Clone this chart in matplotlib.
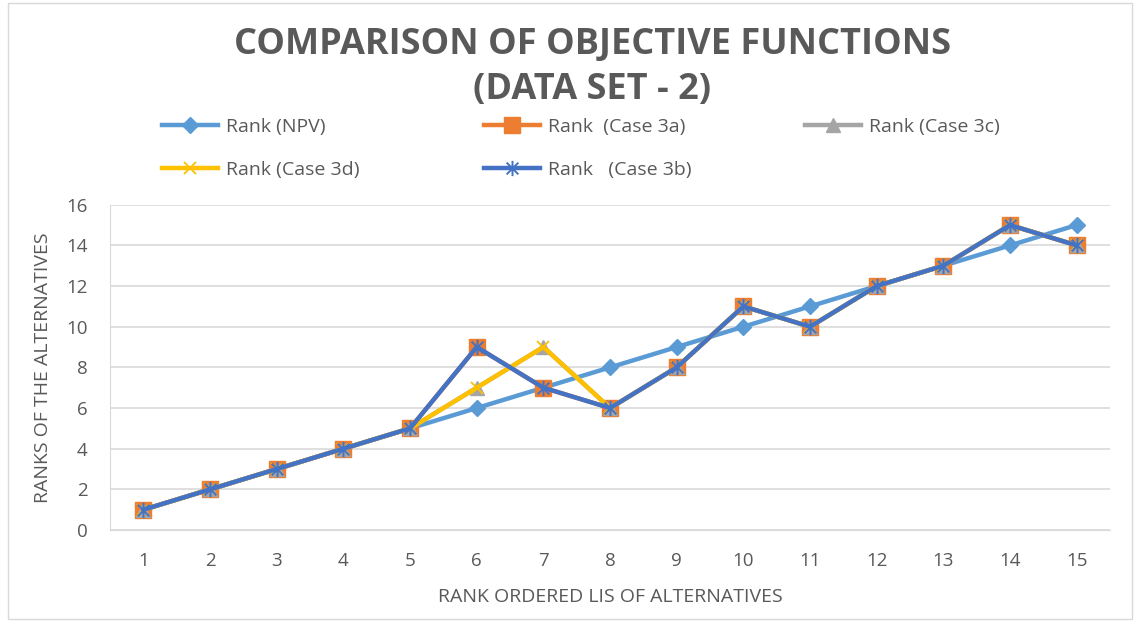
import matplotlib
matplotlib.use("Agg")
from matplotlib import pyplot as plt
from matplotlib.patches import Rectangle
from matplotlib.path import Path

# data
alternatives = list(range(1, 16))
rank_npv = [1, 2, 3, 4, 5, 6, 7, 8, 9, 10, 11, 12, 13, 14, 15]
rank_3a = [1, 2, 3, 4, 5, 9, 7, 6, 8, 11, 10, 12, 13, 15, 14]
rank_3c = [1, 2, 3, 4, 5, 7, 9, 6, 8, 11, 10, 12, 13, 15, 14]
rank_3d = [1, 2, 3, 4, 5, 7, 9, 6, 8, 11, 10, 12, 13, 15, 14]
rank_3b = [1, 2, 3, 4, 5, 9, 7, 6, 8, 11, 10, 12, 13, 15, 14]

plt.rcParams['font.family'] = ['Open Sans', 'DejaVu Sans']
txt = '#595959'

# excel-style star: x plus a vertical bar
star = Path([(-1, -1), (1, 1), (-1, 1), (1, -1), (0, -1.3), (0, 1.3)],
            [Path.MOVETO, Path.LINETO, Path.MOVETO, Path.LINETO, Path.MOVETO, Path.LINETO])

fig = plt.figure(figsize=(11.35, 6.28), dpi=100)
ax = fig.add_axes([0.097, 0.156, 0.881, 0.518])

lw = 3.2
l_npv, = ax.plot(alternatives, rank_npv, color='#5B9BD5', lw=lw, marker='D', ms=8.5, label='Rank (NPV)')
l_3a, = ax.plot(alternatives, rank_3a, color='#ED7D31', lw=lw, marker='s', ms=11.5, label='Rank  (Case 3a)')
l_3c, = ax.plot(alternatives, rank_3c, color='#A5A5A5', lw=lw, marker='^', ms=10, label='Rank (Case 3c)')
l_3d, = ax.plot(alternatives, rank_3d, color='#FFC000', lw=lw, marker='x', ms=8.5, mew=1.3, label='Rank (Case 3d)')
l_3b, = ax.plot(alternatives, rank_3b, color='#4472C4', lw=lw, marker=star, ms=11, mew=1.4, label='Rank   (Case 3b)')

ax.set_xlim(0.5, 15.5)
ax.set_ylim(0, 16)
ax.set_xticks(alternatives)
ax.set_yticks(range(0, 17, 2))
ax.grid(axis='y', color='#D9D9D9', lw=1.2)
ax.set_axisbelow(True)
ax.tick_params(length=0, labelsize=13.5, labelcolor=txt)
ax.tick_params(axis='x', pad=16)
ax.tick_params(axis='y', pad=16)
for s in ['top', 'right']:
    ax.spines[s].set_visible(False)
ax.spines['left'].set_color('#D9D9D9')
ax.spines['bottom'].set_color('#D9D9D9')

ax.set_xlabel('RANK ORDERED LIS OF ALTERNATIVES', fontsize=14, color=txt, labelpad=13)
ax.set_ylabel('RANKS OF THE ALTERNATIVES', fontsize=14, color=txt, labelpad=10)

fig.text(0.522, 1 - 45 / 628, 'COMPARISON OF OBJECTIVE FUNCTIONS', ha='center', va='center',
         fontsize=26, fontweight='bold', color=txt)
fig.text(0.522, 1 - 90 / 628, '(DATA SET - 2)', ha='center', va='center',
         fontsize=26, fontweight='bold', color=txt)

# one legend per entry so each sits where the original puts it
legend_spots = [(l_npv, 162, 127), (l_3a, 484, 127), (l_3c, 805, 127),
                (l_3d, 162, 170), (l_3b, 484, 170)]
for h, x, y in legend_spots:
    leg = fig.legend(handles=[h], labels=[h.get_label()], frameon=False, loc='center left',
                     bbox_to_anchor=(x / 1135, 1 - y / 628), fontsize=14, labelcolor=txt,
                     handlelength=2.9, handletextpad=0.4, borderpad=0, borderaxespad=0)

fig.patches.append(Rectangle((0.007, 0.015), 0.99, 0.98, transform=fig.transFigure,
                             fill=False, edgecolor='#D9D9D9', lw=1))

fig.savefig('out.png', dpi=100)
